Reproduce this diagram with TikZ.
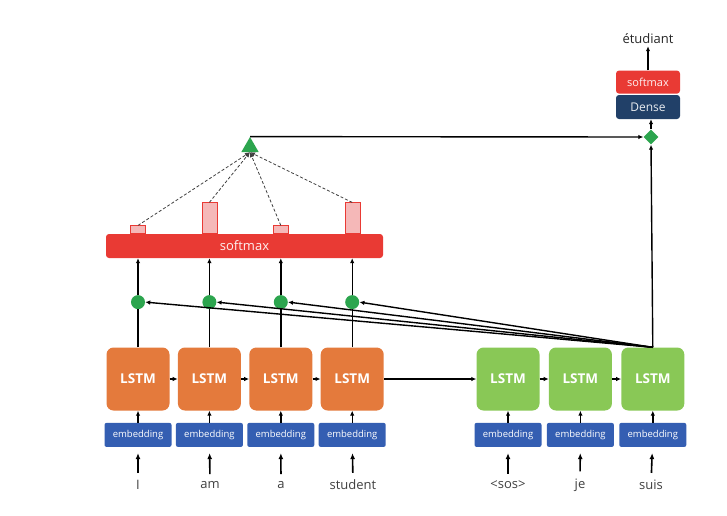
\documentclass[tikz,border=0pt]{standalone}
\usepackage{fontspec}
\setmainfont{Open Sans}
\usetikzlibrary{arrows.meta,positioning,shapes.geometric}
\usepackage{xcolor}
\definecolor{lstmorange}{RGB}{228,122,60}
\definecolor{lstmgreen}{RGB}{137,200,86}
\definecolor{embblue}{RGB}{52,94,178}
\definecolor{smred}{RGB}{233,58,52}
\definecolor{densenavy}{RGB}{33,64,104}
\definecolor{dotgreen}{RGB}{44,165,78}
\definecolor{barpink}{RGB}{245,184,184}

\begin{document}
\begin{tikzpicture}[
            x=1pt, y=-1pt,
            node distance=8pt and 8pt,
            lstmbox/.style={rectangle, rounded corners=7pt, minimum width=63pt, minimum height=63pt, inner sep=0pt, text=white, font=\fontsize{13.5}{15}\selectfont\bfseries},
            embbox/.style={rectangle, rounded corners=2pt, fill=embblue, minimum width=67pt, minimum height=24pt, inner sep=0pt, text=white, font=\fontsize{9.5}{10}\selectfont},
            word/.style={font=\fontsize{13}{15}\selectfont, inner sep=2pt, text=black!75},
            dot/.style={circle, fill=dotgreen, minimum size=14pt, inner sep=0pt},
            attbar/.style={rectangle, draw=smred, fill=barpink, minimum width=15pt, inner sep=0pt, anchor=south},
            arrow/.style={-{Latex[length=5pt,width=4.5pt]}, line width=1.4pt},
            wordarrow/.style={-{Latex[length=6pt,width=5pt]}, line width=1.6pt, shorten >=6pt, shorten <=5pt}
        ]
            \useasboundingbox (0,0) rectangle (727,515);

            % --- ENCODER ---
            \node[lstmbox, fill=lstmorange] (enc1) at (138,379) {LSTM};
            \node[lstmbox, fill=lstmorange, right=of enc1] (enc2) {LSTM};
            \node[lstmbox, fill=lstmorange, right=of enc2] (enc3) {LSTM};
            \node[lstmbox, fill=lstmorange, right=of enc3] (enc4) {LSTM};

            \node[embbox, below=12pt of enc1] (embE1) {embedding};
            \node[embbox, below=12pt of enc2] (embE2) {embedding};
            \node[embbox, below=12pt of enc3] (embE3) {embedding};
            \node[embbox, below=12pt of enc4] (embE4) {embedding};

            \node[word] (wI) at (138,485) {I};
            \node[word] (wam) at (210,485) {am};
            \node[word] (wa) at (281,485) {a};
            \node[word] (wstudent) at (353,485) {student};

            % --- DECODER ---
            \node[lstmbox, fill=lstmgreen] (dec1) at (508,379) {LSTM};
            \node[lstmbox, fill=lstmgreen, right=9pt of dec1] (dec2) {LSTM};
            \node[lstmbox, fill=lstmgreen, right=9pt of dec2] (dec3) {LSTM};

            \node[embbox, below=12pt of dec1] (embD1) {embedding};
            \node[embbox, below=12pt of dec2] (embD2) {embedding};
            \node[embbox, below=12pt of dec3] (embD3) {embedding};

            \node[word] (wsos) at (508,485) {<sos>};
            \node[word] (wje) at (580,485) {je};
            \node[word] (wsuis) at (651,485) {suis};

            % --- ATTENTION ---
            \node[dot, above=38pt of enc1] (dot1) {};
            \node[dot, above=38pt of enc2] (dot2) {};
            \node[dot, above=38pt of enc3] (dot3) {};
            \node[dot, above=38pt of enc4] (dot4) {};

            \node[rectangle, rounded corners=3pt, fill=smred, minimum width=277pt, minimum height=24pt, inner sep=0pt, text=white!92!smred, font=\fontsize{13}{15}\selectfont] (attsm) at (244.5,246) {softmax};

            \node[attbar, minimum height=8pt] (bar1) at (dot1 |- attsm.north) {};
            \node[attbar, minimum height=31pt] (bar2) at (dot2 |- attsm.north) {};
            \node[attbar, minimum height=8pt] (bar3) at (dot3 |- attsm.north) {};
            \node[attbar, minimum height=31pt] (bar4) at (dot4 |- attsm.north) {};

            \node[regular polygon, regular polygon sides=3, fill=dotgreen, minimum size=20pt, inner sep=0pt] (ctx) at (250,147) {};

            % --- SAIDA ---
            \node[diamond, fill=dotgreen, minimum size=15pt, inner sep=0pt] (concat) at (651,137) {};
            \node[rectangle, rounded corners=3pt, fill=densenavy, minimum width=64pt, minimum height=24pt, inner sep=0pt, text=white!90!densenavy, font=\fontsize{12}{14}\selectfont] (dense) at (648,107) {Dense};
            \node[rectangle, rounded corners=3pt, fill=smred, minimum width=64pt, minimum height=23pt, inner sep=0pt, text=white!92!smred, font=\fontsize{11}{13}\selectfont, above=1pt of dense] (outsm) {softmax};
            \node[word, text=black!85] (wout) at (648,39) {étudiant};

            % Ligações
            \draw[wordarrow] (wI) -- (embE1);
            \draw[wordarrow] (wam) -- (embE2);
            \draw[wordarrow] (wa) -- (embE3);
            \draw[wordarrow] (wstudent) -- (embE4);
            \draw[wordarrow] (wsos) -- (embD1);
            \draw[wordarrow] (wje) -- (embD2);
            \draw[wordarrow] (wsuis) -- (embD3);

            \draw[arrow] (embE1) -- (enc1);
            \draw[arrow] (embE2) -- (enc2);
            \draw[arrow] (embE3) -- (enc3);
            \draw[arrow] (embE4) -- (enc4);
            \draw[arrow] (embD1) -- (dec1);
            \draw[arrow] (embD2) -- (dec2);
            \draw[arrow] (embD3) -- (dec3);

            \draw[arrow] (enc1) -- (enc2);
            \draw[arrow] (enc2) -- (enc3);
            \draw[arrow] (enc3) -- (enc4);
            \draw[arrow] (enc4) -- (dec1);
            \draw[arrow] (dec1) -- (dec2);
            \draw[arrow] (dec2) -- (dec3);

            \draw[line width=1.4pt] (enc1.north) -- (dot1);
            \draw[line width=1.4pt] (enc2.north) -- (dot2);
            \draw[line width=1.4pt] (enc3.north) -- (dot3);
            \draw[line width=1.4pt] (enc4.north) -- (dot4);

            \draw[arrow] (dot1) -- (attsm.south -| dot1);
            \draw[arrow] (dot2) -- (attsm.south -| dot2);
            \draw[arrow] (dot3) -- (attsm.south -| dot3);
            \draw[arrow] (dot4) -- (attsm.south -| dot4);

            \draw[arrow] (dec3.north) -- (dot1.east);
            \draw[arrow] (dec3.north) -- (dot2.east);
            \draw[arrow] (dec3.north) -- (dot3.east);
            \draw[arrow] (dec3.north) -- (dot4.east);

            \draw[densely dashed, -{Latex[length=5pt,width=4.5pt]}, black!75, line width=0.8pt] (bar1.north) -- (ctx.south);
            \draw[densely dashed, -{Latex[length=5pt,width=4.5pt]}, black!75, line width=0.8pt] (bar2.north) -- (ctx.south);
            \draw[densely dashed, -{Latex[length=5pt,width=4.5pt]}, black!75, line width=0.8pt] (bar3.north) -- (ctx.south);
            \draw[densely dashed, -{Latex[length=5pt,width=4.5pt]}, black!75, line width=0.8pt] (bar4.north) -- (ctx.south);

            \draw[arrow] (ctx.north) -- (concat.west);
            \draw[arrow] (dec3.north) -- (concat.south);
            \draw[arrow] (concat.north) -- (dense.south -| concat);
            \draw[arrow] (outsm.north) -- (wout);

        \end{tikzpicture}
\end{document}
